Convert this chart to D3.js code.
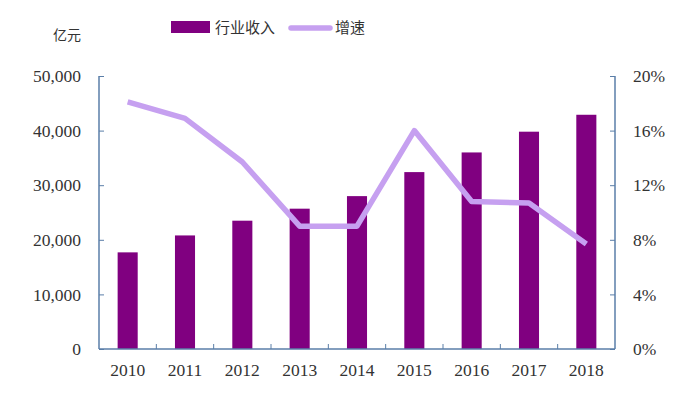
<!DOCTYPE html>
<html>
<head>
<meta charset="utf-8">
<title>行业收入与增速</title>
<script src="https://d3js.org/d3.v7.min.js"></script>
<style>
  body { margin: 0; background: #fff; }
  text { fill: #333; }
</style>
</head>
<body>
<div id="chart"></div>
<script>
const years = ['2010', '2011', '2012', '2013', '2014', '2015', '2016', '2017', '2018'];
const revenue = [17700, 20800, 23500, 25700, 28000, 32400, 36000, 39800, 42900];
const growth = [18.1, 16.9, 13.7, 9.0, 9.0, 16.0, 10.8, 10.7, 7.7];
const leftTicks = [0, 10000, 20000, 30000, 40000, 50000];
const rightTicks = [0, 4, 8, 12, 16, 20];

const W = 692, H = 394;
const margin = { top: 76, right: 77, bottom: 45, left: 99 };
const width = W - margin.left - margin.right;
const height = H - margin.top - margin.bottom;
const axisColor = '#5a7ea8';
const numFont = '"Liberation Serif", "DejaVu Serif", serif';
const cjkFont = '"Noto Sans CJK SC", sans-serif';

const svg = d3.select('#chart').append('svg')
    .attr('width', W)
    .attr('height', H);

const g = svg.append('g')
    .attr('transform', `translate(${margin.left},${margin.top})`);

const x = d3.scaleBand().domain(years).range([0, width]).paddingInner(0.65).paddingOuter(0.325);
const xStep = d3.scaleBand().domain(years).range([0, width]);
const yL = d3.scaleLinear().domain([0, 50000]).range([height, 0]);
const yR = d3.scaleLinear().domain([0, 20]).range([height, 0]);

// bars
g.selectAll('rect.bar')
  .data(years)
  .enter().append('rect')
    .attr('class', 'bar')
    .attr('x', d => x(d))
    .attr('width', x.bandwidth())
    .attr('y', (d, i) => yL(revenue[i]))
    .attr('height', (d, i) => height - yL(revenue[i]))
    .attr('fill', '#800080');

// growth line
const line = d3.line()
  .x((d, i) => xStep(years[i]) + xStep.bandwidth() / 2)
  .y(d => yR(d));

g.append('path')
  .datum(growth)
  .attr('d', line)
  .attr('fill', 'none')
  .attr('stroke', '#c6a0f0')
  .attr('stroke-width', 5.5)
  .attr('stroke-linejoin', 'round');

// left axis
const axL = g.append('g')
  .call(d3.axisLeft(yL).tickValues(leftTicks).tickSize(-5).tickPadding(18)
    .tickFormat(d3.format(',')));

// right axis
const axR = g.append('g')
  .attr('transform', `translate(${width},0)`)
  .call(d3.axisRight(yR).tickValues(rightTicks).tickSize(-5).tickPadding(18)
    .tickFormat(d => d + '%'));
axR.selectAll('text').attr('text-anchor', 'start');

// bottom axis: ticks between categories
const axB = g.append('g')
  .attr('transform', `translate(0,${height})`)
  .call(d3.axisBottom(x).tickSize(0).tickPadding(15));

axB.selectAll('line.sep')
  .data(years.slice(1))
  .enter().append('line')
    .attr('class', 'sep')
    .attr('x1', d => xStep(d)).attr('x2', d => xStep(d))
    .attr('y1', 0).attr('y2', -5)
    .attr('stroke', axisColor);

[axL, axR, axB].forEach(a => {
  a.select('.domain').attr('stroke', axisColor).attr('stroke-width', 1.5);
  a.selectAll('.tick line').attr('stroke', axisColor);
  a.selectAll('text')
    .style('font-family', numFont)
    .style('font-size', '17.5px')
    .attr('fill', '#333');
});
axL.select('.domain').attr('d', `M0,0V${height}`);
axR.select('.domain').attr('d', `M0,0V${height}`);
axB.select('.domain').attr('d', `M0,0H${width}`);

// unit label
svg.append('text')
  .attr('x', 53).attr('y', 40)
  .style('font-family', cjkFont)
  .style('font-size', '14px')
  .text('亿元');

// legend
const lg = svg.append('g');
lg.append('rect')
  .attr('x', 171).attr('y', 21).attr('width', 39).attr('height', 12)
  .attr('fill', '#800080');
lg.append('text')
  .attr('x', 215).attr('y', 33)
  .style('font-family', cjkFont)
  .style('font-size', '15px')
  .text('行业收入');
lg.append('line')
  .attr('x1', 291).attr('x2', 330).attr('y1', 28).attr('y2', 28)
  .attr('stroke', '#c6a0f0').attr('stroke-width', 5.5).attr('stroke-linecap', 'round');
lg.append('text')
  .attr('x', 335).attr('y', 33)
  .style('font-family', cjkFont)
  .style('font-size', '15px')
  .text('增速');
</script>
</body>
</html>
